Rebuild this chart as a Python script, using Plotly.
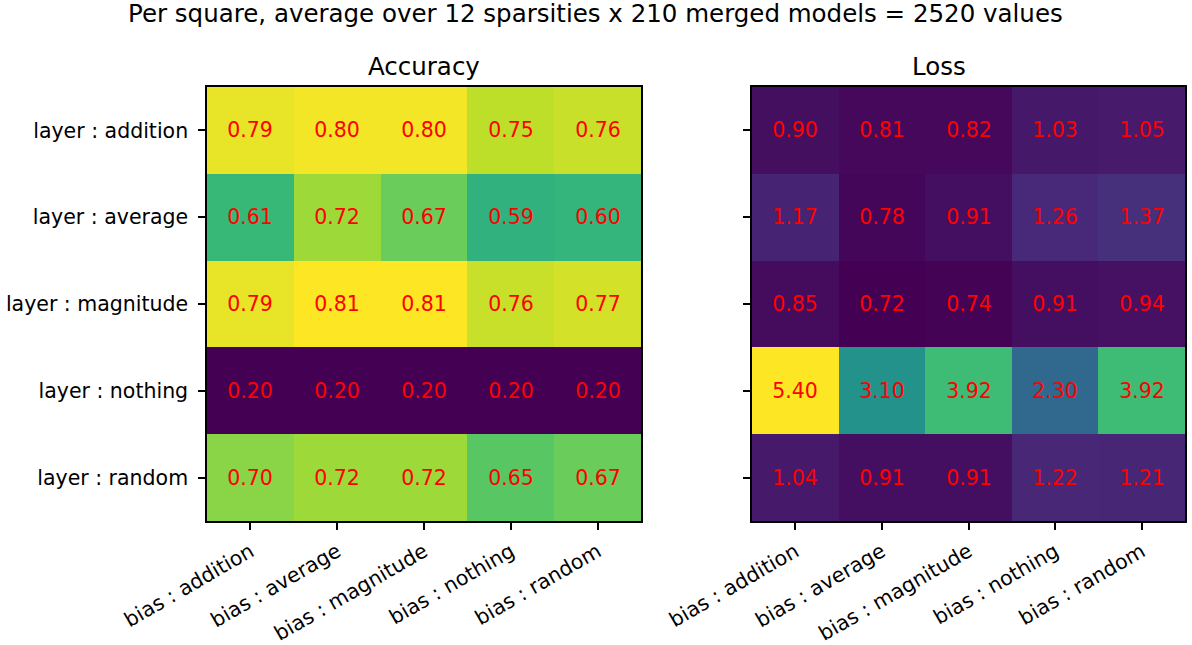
import plotly.graph_objects as go

# Row / column categories
layers = ["layer : addition", "layer : average", "layer : magnitude", "layer : nothing", "layer : random"]
biases = ["bias : addition", "bias : average", "bias : magnitude", "bias : nothing", "bias : random"]

# Mean accuracy per (layer, bias) pair
accuracy = [
    [0.79, 0.80, 0.80, 0.75, 0.76],
    [0.61, 0.72, 0.67, 0.59, 0.60],
    [0.79, 0.81, 0.81, 0.76, 0.77],
    [0.20, 0.20, 0.20, 0.20, 0.20],
    [0.70, 0.72, 0.72, 0.65, 0.67],
]

# Mean loss per (layer, bias) pair
loss = [
    [0.90, 0.81, 0.82, 1.03, 1.05],
    [1.17, 0.78, 0.91, 1.26, 1.37],
    [0.85, 0.72, 0.74, 0.91, 0.94],
    [5.40, 3.10, 3.92, 2.30, 3.92],
    [1.04, 0.91, 0.91, 1.22, 1.21],
]

W, H = 1192, 645
FONT = "DejaVu Sans"
TICK_SIZE = 20.5
TITLE_SIZE = 24.5

def px_x(v):
    return v / W

def px_y(v):
    return 1 - v / H

fig = go.Figure()

for i, z in enumerate([accuracy, loss]):
    suffix = "" if i == 0 else "2"
    fig.add_trace(go.Heatmap(
        z=z, x=biases, y=layers,
        colorscale="Viridis", showscale=False,
        texttemplate="%{z:.2f}",
        textfont=dict(color="red", size=TICK_SIZE, family=FONT),
        xaxis="x" + suffix, yaxis="y" + suffix,
        hoverinfo="skip",
    ))

axis_common = dict(
    showline=True, mirror=True, linecolor="black", linewidth=1.5,
    ticks="outside", ticklen=7, tickwidth=1.5, tickcolor="black",
    showgrid=False, zeroline=False, automargin=False,
    tickfont=dict(family=FONT, size=TICK_SIZE, color="black"),
)

fig.update_layout(
    width=W, height=H,
    margin=dict(l=0, r=0, t=0, b=0),
    paper_bgcolor="white", plot_bgcolor="white",
    font=dict(family=FONT, color="black"),
    xaxis=dict(domain=[px_x(207), px_x(641)], anchor="y", tickangle=-30,
               ticklabelstandoff=2, **axis_common),
    yaxis=dict(domain=[px_y(521), px_y(87)], anchor="x", autorange="reversed",
               ticklabelstandoff=6, **axis_common),
    xaxis2=dict(domain=[px_x(752), px_x(1185)], anchor="y2", tickangle=-30,
                ticklabelstandoff=2, **axis_common),
    yaxis2=dict(domain=[px_y(521), px_y(87)], anchor="x2", autorange="reversed",
                showticklabels=False, **axis_common),
    annotations=[
        dict(text="Per square, average over 12 sparsities x 210 merged models = 2520 values",
             x=px_x(595), y=px_y(14), xref="paper", yref="paper", showarrow=False,
             yanchor="middle", font=dict(size=TITLE_SIZE, family=FONT, color="black")),
        dict(text="Accuracy", x=px_x(424), y=px_y(67), xref="paper", yref="paper",
             yanchor="middle", showarrow=False,
             font=dict(size=TITLE_SIZE, family=FONT, color="black")),
        dict(text="Loss", x=px_x(968), y=px_y(67), xref="paper", yref="paper",
             yanchor="middle", showarrow=False,
             font=dict(size=TITLE_SIZE, family=FONT, color="black")),
    ],
)

fig.write_html("out.html")
